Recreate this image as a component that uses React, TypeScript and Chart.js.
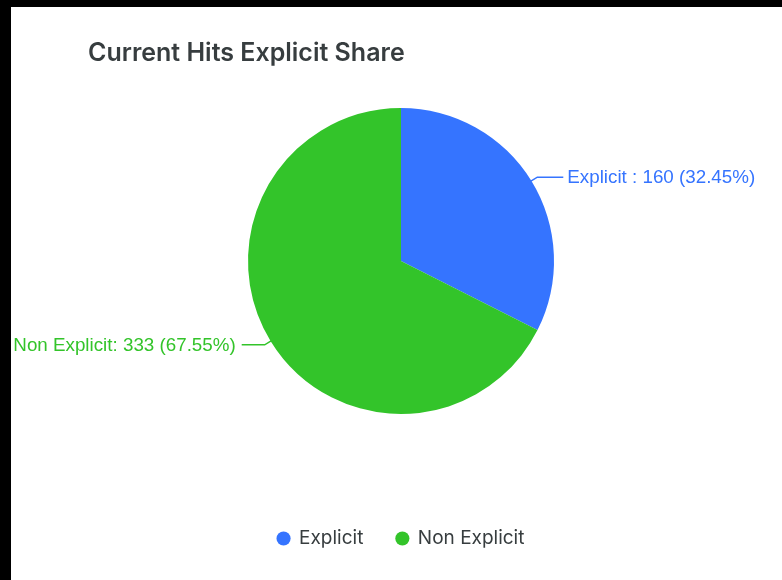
import React, { useEffect, useRef } from "react";
import { Chart, registerables } from "chart.js";

Chart.register(...registerables);

const chartTitle = "Current Hits Explicit Share";
const categories = ["Explicit", "Non Explicit"];
const values = [160, 333];
const calloutNames = ["Explicit ", "Non Explicit"];
const colors = ["#3574FF", "#33C42A"];

const calloutPlugin = {
  id: "callouts",
  afterDatasetsDraw(chart: any) {
    const ctx = chart.ctx;
    const meta = chart.getDatasetMeta(0);
    const data = chart.data.datasets[0].data as number[];
    const total = data.reduce((a, b) => a + b, 0);
    ctx.save();
    ctx.font = '18.8px "Liberation Sans", Arial, sans-serif';
    ctx.textBaseline = "middle";
    ctx.lineWidth = 1.5;
    meta.data.forEach((arc: any, i: number) => {
      const { x, y, startAngle, endAngle, outerRadius } = arc.getProps(
        ["x", "y", "startAngle", "endAngle", "outerRadius"],
        true
      );
      const mid = (startAngle + endAngle) / 2;
      const c = Math.cos(mid);
      const s = Math.sin(mid);
      const ex = x + c * (outerRadius - 1);
      const ey = y + s * (outerRadius - 1);
      const bx = x + c * (outerRadius + 7);
      const by = y + s * (outerRadius + 7);
      const right = c >= 0;
      const lx = bx + (right ? 26 : -23);
      const color = colors[i];
      ctx.strokeStyle = color;
      ctx.beginPath();
      ctx.moveTo(ex, ey);
      ctx.lineTo(bx, by);
      ctx.lineTo(lx, by);
      ctx.stroke();
      const pct = ((data[i] / total) * 100).toFixed(2);
      const text = `${calloutNames[i]}: ${data[i]} (${pct}%)`;
      ctx.fillStyle = color;
      ctx.textAlign = right ? "left" : "right";
      ctx.fillText(text, right ? lx + 4 : lx - 6, by + 1);
    });
    ctx.restore();
  },
};

export default function App() {
  const ref = useRef<HTMLCanvasElement | null>(null);

  useEffect(() => {
    if (!ref.current) return;
    const chart = new Chart(ref.current, {
      type: "pie",
      data: {
        labels: categories,
        datasets: [
          {
            data: values,
            backgroundColor: colors,
            borderWidth: 0,
            hoverOffset: 0,
          },
        ],
      },
      options: {
        animation: false,
        responsive: true,
        maintainAspectRatio: false,
        layout: { padding: { left: 77, right: 68, top: 0, bottom: 22 } },
        plugins: {
          title: {
            display: true,
            text: chartTitle,
            align: "start",
            color: "#373d3f",
            font: { family: "Inter, 'Liberation Sans', Arial, sans-serif", size: 25, weight: "600" },
            padding: { top: 31, bottom: 40 },
          },
          legend: {
            display: true,
            position: "bottom",
            align: "center",
            title: {
              display: true,
              text: " ",
              font: { size: 12 },
              padding: { top: 67.6, bottom: 0 },
            },
            labels: {
              usePointStyle: true,
              pointStyle: "circle",
              boxWidth: 12,
              boxHeight: 10,
              padding: 33,
              color: "#373d3f",
              font: { family: "Inter, 'Liberation Sans', Arial, sans-serif", size: 19 },
            },
          },
          tooltip: { enabled: false },
        },
      },
      plugins: [calloutPlugin],
    });
    return () => chart.destroy();
  }, []);

  return (
    <div style={{ position: "fixed", inset: 0, background: "#000" }}>
      <div
        style={{
          position: "absolute",
          left: 11,
          top: 7,
          width: 771,
          height: 573,
          background: "#fff",
        }}
      >
        <canvas ref={ref} />
      </div>
    </div>
  );
}
